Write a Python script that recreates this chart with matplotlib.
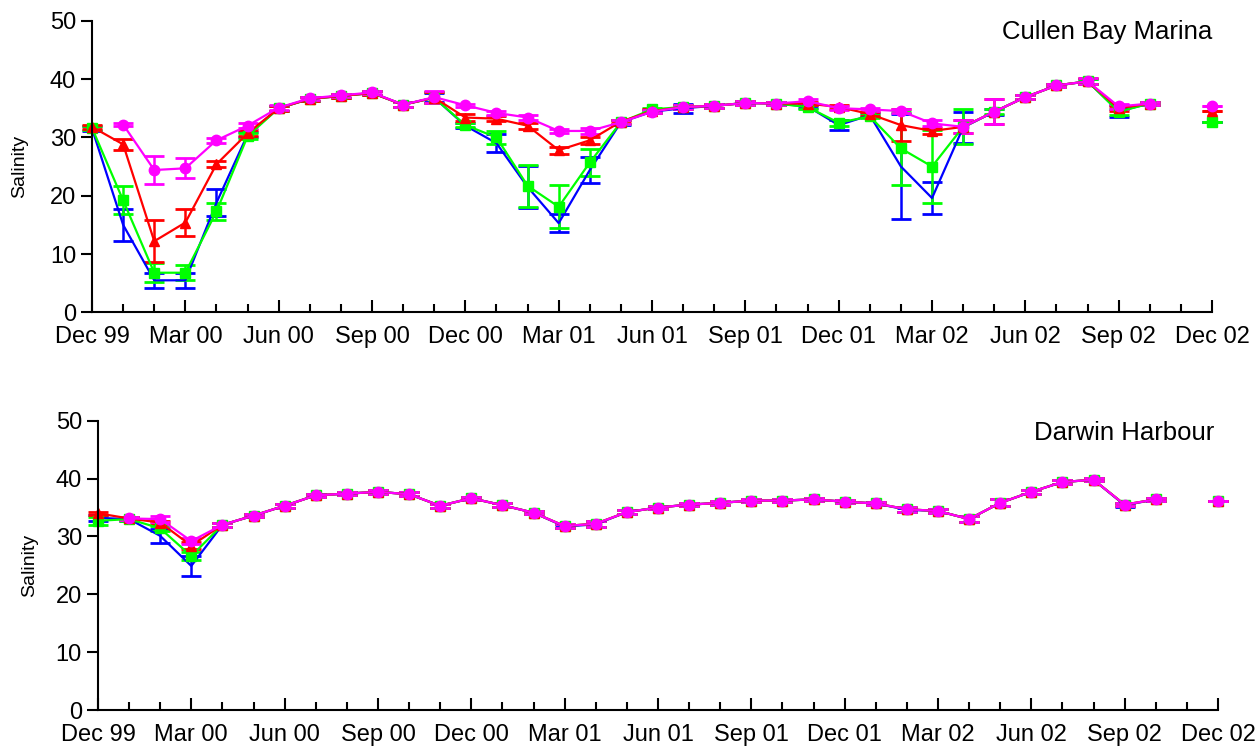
import numpy as np
import matplotlib.pyplot as plt
from matplotlib.ticker import MultipleLocator

plt.rcParams['font.family'] = ['Liberation Sans', 'DejaVu Sans']

nan = np.nan

# months since Dec 99 (Nov 02 has no sample)
months = np.arange(37)
tick_labels = ['Dec 99', 'Mar 00', 'Jun 00', 'Sep 00', 'Dec 00', 'Mar 01', 'Jun 01',
               'Sep 01', 'Dec 01', 'Mar 02', 'Jun 02', 'Sep 02', 'Dec 02']

# ---- Cullen Bay Marina ----
cb_blue = [31.5, 15.0, 5.5, 5.5, 18.8, 30.5, 35.0, 36.6, 37.1, 37.6, 35.6, 36.8,
           32.0, 29.0, 21.5, 15.3, 24.4, 32.6, 34.4, 35.0, 35.4, 35.9, 35.8, 35.3,
           32.1, 33.8, 25.0, 19.6, 31.7, 34.4, 36.9, 38.9, 39.6, 34.5, 35.8, nan, 32.7]
cb_blue_err = [0.4, 2.7, 1.3, 1.3, 2.3, 0.5, 0.4, 0.3, 0.3, 0.3, 0.4, 0.8,
               0.4, 1.5, 3.6, 1.6, 2.3, 0.4, 0.3, 0.8, 0.3, 0.3, 0.3, 0.3,
               0.9, 0.3, 9.0, 2.8, 2.6, 0.5, 0.3, 0.3, 0.4, 1.0, 0.3, nan, 0.0]
cb_green = [31.6, 19.2, 6.8, 6.8, 17.3, 30.2, 35.0, 36.6, 37.1, 37.6, 35.6, 36.8,
            32.1, 30.0, 21.7, 18.1, 25.7, 32.6, 34.8, 35.2, 35.4, 35.9, 35.8, 35.2,
            32.5, 33.6, 28.1, 25.0, 31.8, 34.4, 36.9, 38.9, 39.6, 34.4, 35.8, nan, 32.7]
cb_green_err = [0.4, 2.4, 1.6, 1.3, 1.4, 0.5, 0.4, 0.3, 0.3, 0.3, 0.4, 0.9,
                0.4, 1.1, 3.6, 3.7, 2.3, 0.3, 0.3, 0.3, 0.3, 0.3, 0.3, 0.3,
                0.5, 0.3, 6.3, 6.3, 3.0, 0.4, 0.3, 0.3, 0.4, 0.5, 0.3, nan, 0.0]
cb_red = [31.8, 28.8, 12.2, 15.4, 25.4, 30.7, 35.0, 36.6, 37.1, 37.6, 35.6, 36.8,
          33.4, 33.2, 32.0, 27.8, 29.5, 32.7, 34.5, 35.2, 35.4, 35.9, 35.8, 35.8,
          35.2, 34.0, 32.1, 31.1, 31.8, 34.4, 36.9, 38.9, 39.6, 35.0, 35.8, nan, 34.6]
cb_red_err = [0.3, 1.0, 3.6, 2.3, 0.5, 0.5, 0.4, 0.3, 0.3, 0.3, 0.4, 0.9,
              0.6, 0.4, 0.5, 0.6, 0.6, 0.3, 0.3, 0.3, 0.3, 0.3, 0.3, 0.3,
              0.3, 0.4, 2.7, 0.5, 1.1, 2.1, 0.3, 0.3, 0.5, 0.4, 0.3, nan, 0.0]
cb_mag = [nan, 32.2, 24.4, 24.7, 29.5, 32.0, 35.1, 36.7, 37.2, 37.7, 35.6, 36.9,
          35.5, 34.2, 33.4, 31.1, 31.1, 32.6, 34.4, 35.2, 35.4, 35.9, 35.8, 36.2,
          35.0, 34.8, 34.5, 32.4, 31.8, 34.4, 36.9, 38.9, 39.6, 35.3, 35.8, nan, 35.3]
cb_mag_err = [nan, 0.3, 2.4, 1.7, 0.4, 0.4, 0.4, 0.3, 0.3, 0.3, 0.4, 1.0,
              0.3, 0.4, 0.4, 0.3, 0.5, 0.3, 0.3, 0.3, 0.3, 0.3, 0.3, 0.3,
              0.3, 0.3, 0.4, 0.5, 1.1, 2.1, 0.3, 0.3, 0.5, 0.4, 0.3, nan, 0.0]

# ---- Darwin Harbour ----
dh_blue = [33.2, 33.0, 30.1, 24.9, 32.0, 33.6, 35.3, 37.1, 37.4, 37.7, 37.3, 35.3,
           36.6, 35.4, 34.1, 31.7, 32.1, 34.2, 35.0, 35.5, 35.8, 36.2, 36.2, 36.4,
           36.0, 35.7, 34.6, 34.4, 33.0, 35.8, 37.7, 39.4, 39.8, 35.4, 36.4, nan, 36.2]
dh_blue_err = [0.5, 0.3, 1.2, 1.7, 0.3, 0.3, 0.3, 0.3, 0.3, 0.3, 0.3, 0.3,
               0.3, 0.3, 0.3, 0.3, 0.5, 0.3, 0.3, 0.3, 0.3, 0.3, 0.3, 0.3,
               0.3, 0.3, 0.4, 0.3, 0.5, 0.6, 0.3, 0.3, 0.3, 0.3, 0.3, nan, 0.0]
dh_green = [32.7, 33.0, 31.4, 26.6, 32.0, 33.6, 35.3, 37.1, 37.4, 37.7, 37.3, 35.3,
            36.6, 35.4, 34.1, 31.8, 32.2, 34.2, 35.0, 35.5, 35.8, 36.2, 36.2, 36.4,
            36.0, 35.7, 34.7, 34.4, 33.0, 35.8, 37.7, 39.4, 39.8, 35.5, 36.4, nan, 36.2]
dh_green_err = [0.7, 0.3, 0.4, 0.7, 0.3, 0.3, 0.3, 0.3, 0.3, 0.3, 0.3, 0.3,
                0.3, 0.3, 0.3, 0.3, 0.5, 0.3, 0.3, 0.3, 0.3, 0.3, 0.3, 0.3,
                0.3, 0.3, 0.4, 0.3, 0.5, 0.6, 0.3, 0.3, 0.3, 0.3, 0.3, nan, 0.0]
dh_red = [34.0, 33.1, 32.4, 28.4, 32.0, 33.6, 35.3, 37.1, 37.4, 37.7, 37.3, 35.3,
          36.6, 35.4, 34.1, 31.8, 32.2, 34.2, 35.0, 35.5, 35.8, 36.2, 36.2, 36.4,
          36.0, 35.7, 34.7, 34.4, 33.0, 35.8, 37.7, 39.4, 39.8, 35.5, 36.4, nan, 36.2]
dh_red_err = [0.3, 0.3, 0.3, 0.6, 0.3, 0.3, 0.3, 0.3, 0.3, 0.3, 0.3, 0.3,
              0.3, 0.3, 0.3, 0.3, 0.5, 0.3, 0.3, 0.3, 0.3, 0.3, 0.3, 0.3,
              0.3, 0.3, 0.4, 0.3, 0.5, 0.6, 0.3, 0.3, 0.3, 0.3, 0.3, nan, 0.0]
dh_mag = [nan, 33.1, 33.0, 29.2, 32.0, 33.6, 35.3, 37.1, 37.4, 37.7, 37.3, 35.3,
          36.6, 35.4, 34.1, 31.8, 32.2, 34.2, 35.0, 35.5, 35.8, 36.2, 36.2, 36.4,
          36.0, 35.7, 34.7, 34.4, 33.0, 35.8, 37.7, 39.4, 39.8, 35.5, 36.4, nan, 36.2]
dh_mag_err = [nan, 0.3, 0.5, 0.5, 0.3, 0.3, 0.3, 0.3, 0.3, 0.3, 0.3, 0.3,
              0.3, 0.3, 0.3, 0.3, 0.5, 0.3, 0.3, 0.3, 0.3, 0.3, 0.3, 0.3,
              0.3, 0.3, 0.4, 0.3, 0.5, 0.6, 0.3, 0.3, 0.3, 0.3, 0.3, nan, 0.0]

styles = [('#0000ff', 'None', 6), ('#00ff00', 's', 6.5),
          ('#ff0000', '^', 7.5), ('#ff00ff', 'o', 7.5)]


def draw(ax, series, title, tx, ty):
    for (vals, errs), (col, mk, ms) in zip(series, styles):
        ax.errorbar(months, vals, yerr=errs, color=col, marker=mk, markersize=ms,
                    linewidth=1.6, elinewidth=1.8, capsize=7, capthick=2)
    ax.set_xlim(0, 36)
    ax.set_ylim(0, 50)
    ax.set_xticks(np.arange(0, 37, 3))
    ax.set_xticklabels(tick_labels)
    ax.xaxis.set_minor_locator(MultipleLocator(1))
    ax.set_yticks(np.arange(0, 51, 10))
    ax.tick_params(axis='x', which='major', direction='in', length=9, width=1.5,
                   labelsize=17, pad=10)
    ax.tick_params(axis='x', which='minor', direction='in', length=6, width=1.5)
    ax.tick_params(axis='y', direction='out', length=8, width=1.5, labelsize=17)
    for s in ['top', 'right']:
        ax.spines[s].set_visible(False)
    for s in ['left', 'bottom']:
        ax.spines[s].set_linewidth(1.5)
    ax.set_ylabel('Salinity', fontsize=14)
    ax.text(tx, ty, title, transform=ax.transAxes, ha='right', va='center',
            fontsize=18.5)
    for child in ax.get_children():
        if child not in ax.spines.values() and hasattr(child, 'set_clip_on'):
            child.set_clip_on(False)


fig = plt.figure(figsize=(12.59, 7.47), dpi=100)
ax1 = fig.add_axes([0.0731, 0.5818, 0.8896, 0.3905])
ax2 = fig.add_axes([0.0778, 0.0495, 0.8896, 0.3873])

draw(ax1, [(cb_blue, cb_blue_err), (cb_green, cb_green_err),
           (cb_red, cb_red_err), (cb_mag, cb_mag_err)], 'Cullen Bay Marina', 1.0, 0.96)
draw(ax2, [(dh_blue, dh_blue_err), (dh_green, dh_green_err),
           (dh_red, dh_red_err), (dh_mag, dh_mag_err)], 'Darwin Harbour', 0.997, 0.957)
ax1.yaxis.set_label_coords(-0.057, 0.5)
ax2.yaxis.set_label_coords(-0.053, 0.5)

fig.savefig('out.png', dpi=100)
